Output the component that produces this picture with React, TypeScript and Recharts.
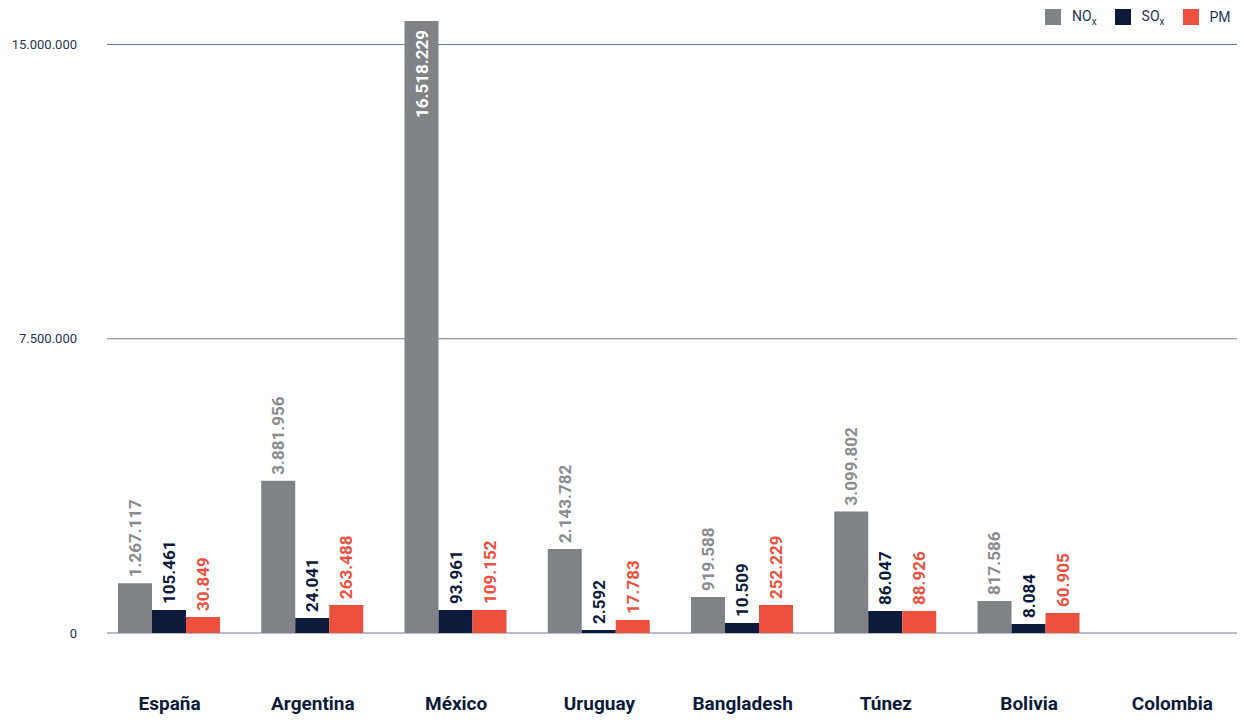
import { BarChart, Bar, XAxis, YAxis, CartesianGrid, LabelList } from 'recharts';

const countries = ['España', 'Argentina', 'México', 'Uruguay', 'Bangladesh', 'Túnez', 'Bolivia', 'Colombia'];
const nox = [1267117, 3881956, 16518229, 2143782, 919588, 3099802, 817586, null];
const sox = [105461, 24041, 93961, 2592, 10509, 86047, 8084, null];
const pm = [30849, 263488, 109152, 17783, 252229, 88926, 60905, null];
const yTicks = [0, 7500000, 15000000];

const GRAY = '#808285';
const NAVY = '#0e1a3a';
const RED = '#ee5040';
const INK = '#2a3452';
const PLOT_TOP = 21;

const data = countries.map((name, i) => ({ name, nox: nox[i], sox: sox[i], pm: pm[i] }));

function fmt(v: number) {
  return String(v).replace(/\B(?=(\d{3})+(?!\d))/g, '.');
}

// small emissions get a visible stub, like the printed version
const stub = (v: unknown) => {
  const n = Number(v);
  if (!n) return 0;
  return Math.max(3, Math.round(13 * Math.log10(n) - 42));
};

const valueLabel = (color: string) => (props: any) => {
  const { value } = props;
  if (value == null) return null;
  const vb = props.viewBox ?? props;
  const x = vb.x ?? props.x;
  const y = vb.y ?? props.y;
  const w = vb.width ?? props.width;
  const cx = x + w / 2;
  const over = y < PLOT_TOP;
  const ty = over ? PLOT_TOP + 9 : y - 6;
  return (
    <text
      x={cx}
      y={ty}
      transform={`rotate(-90 ${cx} ${ty})`}
      textAnchor={over ? 'end' : 'start'}
      dominantBaseline="central"
      fill={over ? '#ffffff' : color}
      fontSize={17}
      fontWeight={700}
      fontFamily="Roboto, sans-serif"
    >
      {fmt(value)}
    </text>
  );
};

const gridLine = (props: any) => {
  const { x1, x2, y1, y2, key } = props;
  if (y1 < PLOT_TOP + 2) return <g key={key} />;
  return <line key={key} x1={x1 + 9} x2={x2 - 7} y1={y1} y2={y2} stroke="#6e7891" strokeWidth={1} />;
};

const LEGEND = [
  { label: 'NO', sub: 'x', color: GRAY },
  { label: 'SO', sub: 'x', color: NAVY },
  { label: 'PM', sub: '', color: RED },
];

export default function App() {
  return (
    <div style={{ position: 'absolute', left: 0, top: 0, width: 1244, height: 722, background: '#fff', fontFamily: 'Roboto, sans-serif' }}>
      <div style={{ position: 'absolute', top: 8, left: 1045, display: 'flex', alignItems: 'center', fontSize: 14, color: INK, zIndex: 2 }}>
        {LEGEND.map((l) => (
          <div key={l.label} style={{ display: 'flex', alignItems: 'center', marginRight: 18 }}>
            <span style={{ width: 16, height: 16, background: l.color, display: 'inline-block', marginRight: 11 }} />
            <span>
              {l.label}
              {l.sub && <sub style={{ fontSize: 10 }}>{l.sub}</sub>}
            </span>
          </div>
        ))}
      </div>
      <BarChart
        width={1244}
        height={722}
        data={data}
        margin={{ top: PLOT_TOP, right: 0, left: 0, bottom: 29 }}
        barCategoryGap={20}
        barGap={0}
      >
        <CartesianGrid vertical={false} horizontal={gridLine} />
        <XAxis
          dataKey="name"
          height={60}
          axisLine={false}
          tickLine={false}
          tickSize={0}
          tickMargin={64}
          tick={{ fontSize: 19, fontWeight: 700, fill: NAVY, fontFamily: 'Roboto, sans-serif' }}
          interval={0}
        />
        <YAxis
          width={98}
          domain={[0, 15600000]}
          allowDataOverflow
          ticks={yTicks}
          axisLine={false}
          tickLine={false}
          tickSize={0}
          tickMargin={21}
          tickFormatter={(v) => fmt(v)}
          tick={{ fontSize: 13, fill: INK, fontFamily: 'Roboto, sans-serif' }}
        />
        <Bar dataKey="nox" fill={GRAY} isAnimationActive={false}>
          <LabelList dataKey="nox" content={valueLabel('#8a8b8e')} />
        </Bar>
        <Bar dataKey="sox" fill={NAVY} minPointSize={stub} isAnimationActive={false}>
          <LabelList dataKey="sox" content={valueLabel(NAVY)} />
        </Bar>
        <Bar dataKey="pm" fill={RED} minPointSize={stub} isAnimationActive={false}>
          <LabelList dataKey="pm" content={valueLabel(RED)} />
        </Bar>
      </BarChart>
    </div>
  );
}
